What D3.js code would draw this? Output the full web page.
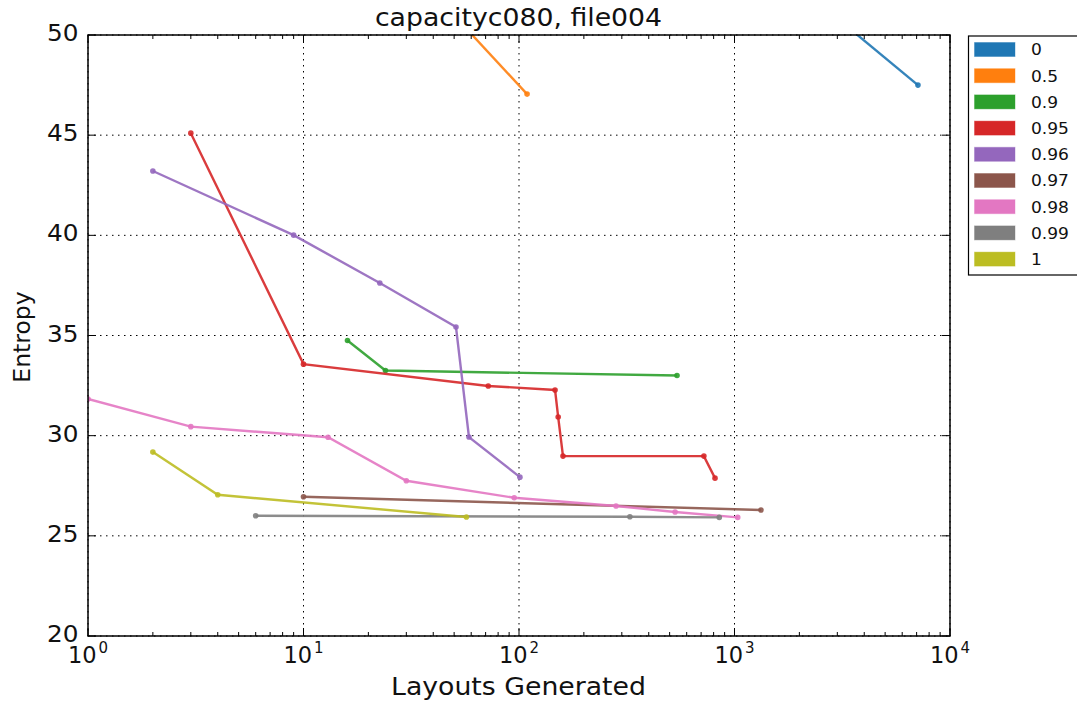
<!DOCTYPE html>
<html><head><meta charset="utf-8">
<script src="https://cdn.jsdelivr.net/npm/d3@7"></script>
<style>body{margin:0;background:#fff;} text{font-family:"DejaVu Sans",sans-serif;fill:#111;}</style>
</head><body><svg id="c" width="1077" height="703"></svg>
<script>
const seriesNames = ["0","0.5","0.9","0.95","0.96","0.97","0.98","0.99","1"];
const colors = ["#1f77b4","#ff7f0e","#2ca02c","#d62728","#9467bd","#8c564b","#e377c2","#7f7f7f","#bcbd22"];
const s0x = [2000, 7100], s0y = [52.4, 47.5];
const s05x = [40, 109], s05y = [52.1, 47.05];
const s09x = [16, 24, 541], s09y = [34.75, 33.25, 33.0];
const s095x = [3, 10, 72, 147, 152, 160, 721, 812], s095y = [45.1, 33.57, 32.48, 32.28, 30.93, 28.98, 28.98, 27.88];
const s096x = [2, 9, 22.6, 51, 58.6, 101], s096y = [43.21, 40.01, 37.62, 35.42, 29.93, 27.93];
const s097x = [10, 1327], s097y = [26.95, 26.29];
const s098x = [1, 3, 13, 30, 95, 282, 530, 1035], s098y = [31.83, 30.45, 29.92, 27.75, 26.9, 26.49, 26.19, 25.92];
const s099x = [6, 327, 850], s099y = [26.0, 25.95, 25.92];
const s1x = [2, 4, 57], s1y = [29.18, 27.05, 25.94];
const xTicks = [1, 10, 100, 1000, 10000];
const yTicks = [20, 25, 30, 35, 40, 45, 50];
const title = "capacityc080, file004";
const xLabel = "Layouts Generated", yLabel = "Entropy";

const allX = [s0x,s05x,s09x,s095x,s096x,s097x,s098x,s099x,s1x];
const allY = [s0y,s05y,s09y,s095y,s096y,s097y,s098y,s099y,s1y];

const L = 88, R = 950, T = 35, B = 636;
const K = 1.1; // horizontal stretch of the reference text
const svg = d3.select("#c");
const x = d3.scaleLog().domain([1, 10000]).range([L, R]);
const y = d3.scaleLinear().domain([20, 50]).range([B, T]);

function txt(g, px, py, size, anchor, s) {
  return g.append("text").attr("transform", `translate(${px},${py}) scale(${K},1)`)
    .attr("text-anchor", anchor).attr("font-size", size).text(s);
}

svg.append("defs").append("clipPath").attr("id","clip").append("rect")
  .attr("x",L).attr("y",T).attr("width",R-L).attr("height",B-T);

// grid
const grid = svg.append("g");
xTicks.forEach(v => grid.append("line").attr("x1",x(v)).attr("x2",x(v)).attr("y1",T).attr("y2",B)
  .attr("stroke","#000").attr("stroke-width",1).attr("stroke-dasharray","1.5,4.5"));
yTicks.forEach(v => grid.append("line").attr("y1",y(v)).attr("y2",y(v)).attr("x1",L).attr("x2",R)
  .attr("stroke","#000").attr("stroke-width",1).attr("stroke-dasharray","1.5,4.5"));

// data
const plot = svg.append("g").attr("clip-path","url(#clip)");
const line = d3.line().x(d=>x(d[0])).y(d=>y(d[1]));
allX.forEach((xs,i) => {
  const pts = xs.map((v,j)=>[v, allY[i][j]]);
  plot.append("path").attr("d", line(pts)).attr("fill","none")
    .attr("stroke", colors[i]).attr("stroke-width", 2.4).attr("stroke-opacity",0.9);
  plot.selectAll(null).data(pts).enter().append("circle")
    .attr("cx",d=>x(d[0])).attr("cy",d=>y(d[1])).attr("r",2.8).attr("fill",colors[i]).attr("fill-opacity",0.9);
});

// axes with inward ticks
const axG = svg.append("g");
const minor = [];
for (let d=1; d<10000; d*=10) for (let k=2;k<10;k++) minor.push(d*k);
minor.forEach(v => {
  axG.append("line").attr("x1",x(v)).attr("x2",x(v)).attr("y1",B).attr("y2",B-4).attr("stroke","#000");
  axG.append("line").attr("x1",x(v)).attr("x2",x(v)).attr("y1",T).attr("y2",T+4).attr("stroke","#000");
});
xTicks.forEach(v => {
  axG.append("line").attr("x1",x(v)).attr("x2",x(v)).attr("y1",B).attr("y2",B-8).attr("stroke","#000");
  axG.append("line").attr("x1",x(v)).attr("x2",x(v)).attr("y1",T).attr("y2",T+8).attr("stroke","#000");
  const t = axG.append("text").attr("transform",`translate(${x(v)},663) scale(1.0,1)`).attr("text-anchor","middle")
    .attr("font-size",22.5);
  t.append("tspan").text("10");
  t.append("tspan").attr("dy",-10).attr("dx",2).attr("font-size",15).text(Math.round(Math.log10(v)));
});
yTicks.forEach(v => {
  axG.append("line").attr("x1",L).attr("x2",L+8).attr("y1",y(v)).attr("y2",y(v)).attr("stroke","#000");
  axG.append("line").attr("x1",R).attr("x2",R-8).attr("y1",y(v)).attr("y2",y(v)).attr("stroke","#000");
  txt(axG, 78.5, y(v)+6, 22.5, "end", v);
});
axG.append("rect").attr("x",L).attr("y",T).attr("width",R-L).attr("height",B-T)
  .attr("fill","none").attr("stroke","#000").attr("stroke-width",1.5);

txt(svg, 518.5, 26, 24.3, "middle", title);
txt(svg, 518.5, 695, 24.3, "middle", xLabel);
svg.append("text").attr("transform","translate(30,337) rotate(-90)").attr("text-anchor","middle")
  .attr("font-size",23.5).text(yLabel);

// legend
const lg = svg.append("g");
lg.append("rect").attr("x",968.5).attr("y",36).attr("width",120).attr("height",239)
  .attr("fill","#fff").attr("stroke","#000").attr("stroke-width",1.2);
seriesNames.forEach((n,i) => {
  const yy = 42.5 + i*26.2;
  lg.append("rect").attr("x",974.5).attr("y",yy).attr("width",40.5).attr("height",14)
    .attr("fill",colors[i]).attr("stroke",colors[i]).attr("stroke-opacity",0.4);
  txt(lg, 1031, yy+12.8, 15.5, "start", n);
});
</script></body></html>
